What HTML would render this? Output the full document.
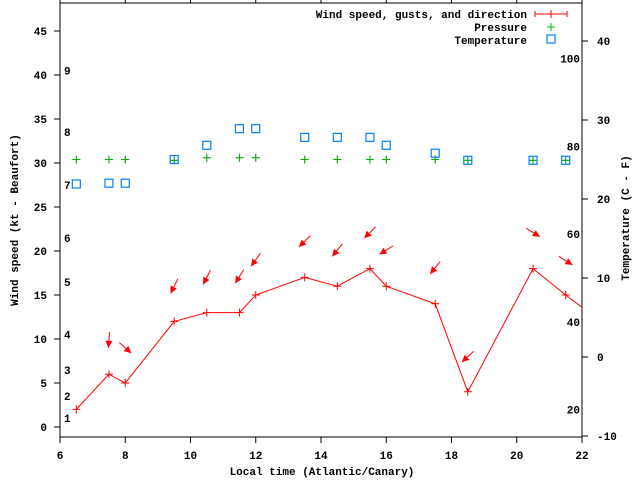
<!DOCTYPE html>
<html><head><meta charset="utf-8"><style>
body{margin:0;background:#fff}
svg text{font-family:"Liberation Mono","DejaVu Sans Mono",monospace;font-weight:bold;font-size:11px;fill:#000}
</style></head><body>
<svg id="c" width="640" height="480" xmlns="http://www.w3.org/2000/svg"></svg>
<script>
const times=[6.5,7.5,8,9.5,10.5,11.5,12,13.5,14.5,15.5,16,17.5,18.5,20.5,21.5,22.5];
const wind=[2,6,5,12,13,13,15,17,16,18,16,14,4,18,15,12.2];
const gustTimes=[7.5,8,9.5,10.5,11.5,12,13.5,14.5,15.5,16,17.5,18.5,20.5,21.5];
const gusts=[9.9,9.0,16.0,17.0,17.1,19.0,21.1,20.1,22.1,20.1,18.1,8.0,22.1,18.9];
const headings=[184,132,207,207,212,216,225,219,225,238,219,228,122,122];
const presTimes=[6.5,7.5,8,9.5,10.5,11.5,12,13.5,14.5,15.5,16,17.5,18.5,20.5,21.5];
const pressure=[30.4,30.4,30.4,30.3,30.6,30.6,30.6,30.4,30.4,30.4,30.4,30.4,30.3,30.3,30.3];
const tempC=[21.9,22,22,25,26.8,28.9,28.9,27.8,27.8,27.8,26.8,25.8,24.9,24.9,24.9];
const xTicks=[6,8,10,12,14,16,18,20,22];
const yTicks=[0,5,10,15,20,25,30,35,40,45];
const cTicks=[-10,0,10,20,30,40];
const fLabels=[20,40,60,80,100];
const bft=[[1,1],[2,3.5],[3,6.5],[4,10.5],[5,16.5],[6,21.5],[7,27.5],[8,33.5],[9,40.5]];

const L=60,R=582,T=3,B=437;
const X=t=>L+(t-6)*(R-L)/16;
const Y=k=>427-k*8.8;
const YC=c=>357-c*7.9;
const YF=f=>YC((f-32)*5/9);
const svg=document.getElementById('c');
const NS='http://www.w3.org/2000/svg';
function mk(tag,attrs,parent){const e=document.createElementNS(NS,tag);for(const k in attrs)e.setAttribute(k,attrs[k]);(parent||svg).appendChild(e);return e;}
function txt(s,x,y,anchor,name){const e=mk('text',{x:x,y:y,'text-anchor':anchor||'start'});e.textContent=s;

return e;}

// frame
const fr=mk('path',{d:`M${L},${T}V${B}H${R}V${T}H${L}`,fill:'none',stroke:'#000','stroke-width':1});


xTicks.forEach(t=>{mk('line',{x1:X(t),x2:X(t),y1:B,y2:B+6,stroke:'#000'});mk('line',{x1:X(t),x2:X(t),y1:T,y2:T-6,stroke:'#000'});
txt(String(t),X(t),459,'middle','x-tick-label');});
yTicks.forEach(v=>{mk('line',{x1:L-6,x2:L,y1:Y(v),y2:Y(v),stroke:'#000'});txt(String(v),47,Y(v)+4,'end','y-tick-label');});
cTicks.forEach(v=>{mk('line',{x1:R,x2:R+6,y1:YC(v),y2:YC(v),stroke:'#000'});txt(String(v),597,YC(v)+4,'start','temp-c-tick-label');});
fLabels.forEach(v=>txt(String(v),580,YF(v)+4,'end','temp-f-label'));
bft.forEach(b=>txt(String(b[0]),64,Y(b[1])+4,'start','beaufort-label'));

// titles
txt('Local time (Atlantic/Canary)',322,475,'middle','x-axis-title');
const yt=txt('Wind speed (kt - Beaufort)',0,0,'middle','y-axis-title');yt.setAttribute('transform','translate(18,220) rotate(-90)');
const rt=txt('Temperature (C - F)',0,0,'middle','temp-axis-title');rt.setAttribute('transform','translate(629,218) rotate(-90)');

const clip=mk('clipPath',{id:'pc'});mk('rect',{x:L,y:T,width:R-L,height:B-T},clip);
const g=mk('g',{'clip-path':'url(#pc)'});

// pressure
presTimes.forEach((t,i)=>{const x=X(t),y=Y(pressure[i]);
mk('path',{d:`M${x-4},${y}H${x+4}M${x},${y-4}V${y+4}`,stroke:'#888'},g);
const p=mk('path',{d:`M${x-4},${y}H${x+4}M${x},${y-4}V${y+4}`,stroke:'#00b000'},g);

});
// temperature
presTimes.forEach((t,i)=>{const r=mk('rect',{x:X(t)-4,y:YC(tempC[i])-4,width:8,height:8,fill:'none',stroke:'#0080ff','stroke-width':1.2},g);

});
// wind line
const wl=mk('polyline',{points:times.map((t,i)=>X(t)+','+Y(wind[i])).join(' '),fill:'none',stroke:'#f00'},g);


times.forEach((t,i)=>{const x=X(t),y=Y(wind[i]);const p=mk('path',{d:`M${x-4},${y}H${x+4}M${x},${y-4}V${y+4}`,stroke:'#f00'},g);

});
// direction arrows
gustTimes.forEach((t,i)=>{const cx=X(t),cy=Y(gusts[i]);const h=headings[i]*Math.PI/180;const dx=Math.sin(h),dy=-Math.cos(h);
const x1=cx-dx*8,y1=cy-dy*8,x2=cx+dx*8,y2=cy+dy*8;const px=-dy,py=dx;
const a=mk('g',{},g);


mk('line',{x1:x1,y1:y1,x2:x2,y2:y2,stroke:'#f00'},a);
mk('path',{d:`M${x2},${y2}L${x2-dx*7+px*3.5},${y2-dy*7+py*3.5}L${x2-dx*7-px*3.5},${y2-dy*7-py*3.5}Z`,fill:'#f00'},a);});

// legend
const lg=mk('g',{});


txt('Wind speed, gusts, and direction',527,18,'end','legend-wind-label');
txt('Pressure',527,31,'end','legend-pressure-label');
txt('Temperature',527,44,'end','legend-temperature-label');
mk('path',{d:'M535,14H567M535,11V17M567,11V17M551,10V18',stroke:'#f00'},lg);
mk('path',{d:'M547,27H555M551,23V31',stroke:'#00b000'},lg);
mk('rect',{x:547,y:35,width:8,height:8,fill:'none',stroke:'#0080ff','stroke-width':1.2},lg);
</script>
</body></html>
